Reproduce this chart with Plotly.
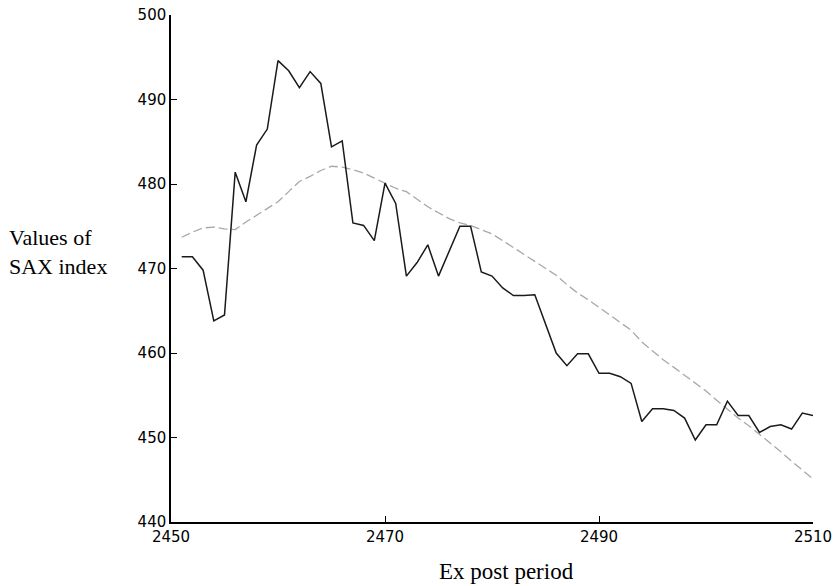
import plotly.graph_objects as go

periods = list(range(2451, 2511))
sax_actual = [
    471.4, 471.4, 469.8, 463.8, 464.5, 481.4, 477.9, 484.6, 486.5, 494.6,
    493.4, 491.4, 493.3, 491.9, 484.4, 485.1, 475.4, 475.1, 473.3, 480.1,
    477.7, 469.1, 470.7, 472.8, 469.1, 472.1, 475.0, 475.0, 469.6, 469.1,
    467.7, 466.8, 466.8, 466.9, 463.4, 460.0, 458.5, 459.9, 459.9, 457.6,
    457.6, 457.2, 456.4, 451.9, 453.4, 453.4, 453.2, 452.3, 449.7, 451.5,
    451.5, 454.3, 452.6, 452.6, 450.6, 451.3, 451.5, 451.0, 452.9, 452.6,
]
sax_fitted = [
    473.7, 474.3, 474.8, 474.9, 474.7, 474.6, 475.5, 476.3, 477.1, 477.9,
    479.1, 480.3, 480.9, 481.6, 482.1, 482.0, 481.7, 481.3, 480.7, 480.1,
    479.5, 479.1, 478.2, 477.3, 476.6, 475.9, 475.4, 475.1, 474.6, 474.1,
    473.3, 472.5, 471.6, 470.8, 470.1, 469.2, 468.1, 467.1, 466.3, 465.4,
    464.5, 463.6, 462.7, 461.3, 460.2, 459.2, 458.3, 457.4, 456.4, 455.5,
    454.4, 453.3, 452.3, 451.4, 450.4, 449.3, 448.3, 447.2, 446.2, 445.1,
]
x_ticks = [2450, 2470, 2490, 2510]
y_ticks = [440, 450, 460, 470, 480, 490, 500]

fig = go.Figure()
fig.add_trace(go.Scatter(
    x=periods, y=sax_fitted, mode="lines",
    line=dict(color="#a8a8a8", width=1.3, dash="9px,4px"),
    showlegend=False, hoverinfo="skip",
))
fig.add_trace(go.Scatter(
    x=periods, y=sax_actual, mode="lines",
    line=dict(color="#1a1a1a", width=1.5),
    showlegend=False, hoverinfo="skip",
))

axis_common = dict(
    showline=True, linecolor="black", linewidth=1.5,
    ticks="inside", ticklen=6, tickcolor="black", tickwidth=1,
    showgrid=False, zeroline=False, automargin=False,
    tickfont=dict(family="DejaVu Sans", size=15, color="black"),
)
fig.update_xaxes(range=[2450, 2510], tickvals=x_ticks,
                 ticktext=[str(v) for v in x_ticks], **axis_common)
fig.update_yaxes(range=[440, 500], tickvals=y_ticks,
                 ticktext=[str(v) for v in y_ticks], **axis_common)

fig.update_layout(
    width=837, height=586, autosize=False,
    margin=dict(l=171, r=24, t=15, b=64, pad=0, autoexpand=False),
    paper_bgcolor="white", plot_bgcolor="white",
    annotations=[
        dict(text="Ex post period", xref="paper", yref="paper",
             x=0.523, y=-0.07, xanchor="center", yanchor="top",
             showarrow=False,
             font=dict(family="Liberation Serif", size=23, color="black")),
        dict(text="Values of<br>SAX index", xref="paper", yref="paper",
             x=-0.256, y=0.532, xanchor="left", yanchor="middle",
             align="left", showarrow=False,
             font=dict(family="Liberation Serif", size=22, color="black")),
    ],
)

fig.write_html("out.html", config={"displayModeBar": False})

with open("out.html", "r", encoding="utf-8") as f:
    html = f.read()
html = html.replace("<body>", '<body style="margin:0;padding:0;overflow:hidden">', 1)
html = html.replace("<head>", "<head><style>html,body{margin:0;padding:0;}</style>", 1)
with open("out.html", "w", encoding="utf-8") as f:
    f.write(html)
